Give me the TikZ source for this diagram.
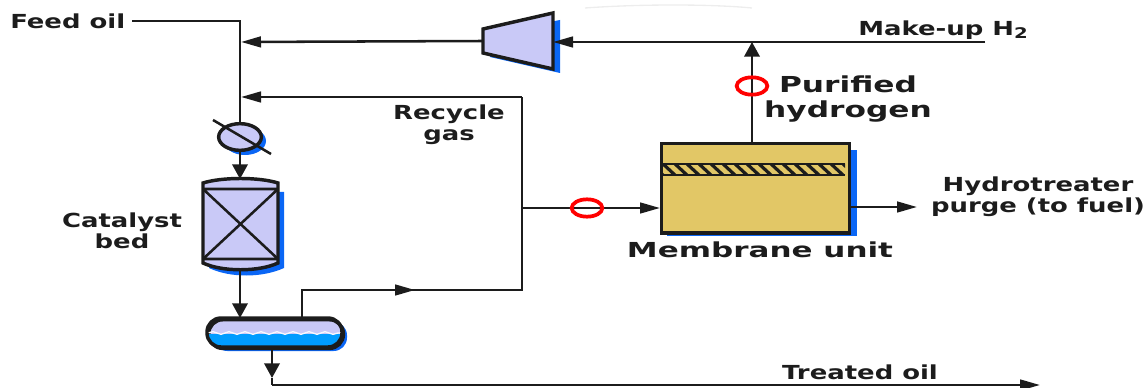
\documentclass[tikz,border=0pt]{standalone}
\usepackage{fontspec}
\usetikzlibrary{arrows.meta,shapes.geometric,decorations.pathmorphing,calc}
\newfontfamily\labA[FakeStretch=1.34]{DejaVu Sans Bold}
\newfontfamily\labB[FakeStretch=1.42]{DejaVu Sans Bold}
\newfontfamily\labC[FakeStretch=1.50]{DejaVu Sans Bold}
\definecolor{lav}{HTML}{C9C9F7}
\definecolor{shad}{HTML}{0A66F5}
\definecolor{liq}{HTML}{009CFF}
\definecolor{sand}{HTML}{E2C766}
\definecolor{ink}{HTML}{1C1C1C}
\tikzset{
  pipe/.style={draw=ink,line width=1.9pt},
  vflow/.style={pipe,-{Triangle[length=11pt,width=11.5pt]}},
  hflow/.style={pipe,-{Triangle[length=15pt,width=8pt]}},
  equip/.style={draw=ink,line width=2.6pt,fill=lav},
  lab/.style={font=\labA\fontsize{14.5}{15.5}\selectfont,text=ink,align=center,inner sep=0pt},
  labbig/.style={font=\labB\fontsize{16.5}{18.7}\selectfont,text=ink,align=center,inner sep=0pt},
  labmem/.style={font=\labC\fontsize{15.5}{18}\selectfont,text=ink,align=center,inner sep=0pt},
  tag/.style={draw=red,line width=2.8pt,ellipse,fill=none,minimum width=23pt,minimum height=13pt,inner sep=0pt},
  pt/.style={inner sep=0pt,minimum size=0pt}
}
\begin{document}
\begin{tikzpicture}[x=0.75pt,y=-0.75pt]
\useasboundingbox (0,0) rectangle (1148,388);
% faint mark at the top
\draw[black!7,line width=1pt] (585,8) .. controls (640,4) and (710,4) .. (752,8);
% labels
\node[lab,anchor=west] (feed) at (10,21) {Feed oil};
\node[lab,anchor=west] (makeup) at (858,30) {Make-up H\raisebox{-2.5pt}{\fontsize{11}{11}\selectfont 2}};
\node[labbig] (purif) at (848,99) {Purified\\hydrogen};
\node[lab] (recy) at (449,125) {Recycle\\gas};
\node[lab] (cat) at (122,231) {Catalyst\\bed};
\node[lab] (hydro) at (1038,197) {Hydrotreater\\purge (to fuel)};
\node[labmem] (memlab) at (760,250) {Membrane unit};
\node[lab] (treated) at (860,372) {Treated oil};
% shadows
\fill[shad] (490,34) -- (560,20) -- (560,73) -- (490,57) -- cycle;
\fill[shad] (667,150) rectangle (857,236);
\fill[shad] (245,141) circle[x radius=15.75pt,y radius=10.5pt];
\fill[shad] (209,192) rectangle (284,268) (209,268) .. controls (230,278) and (262,278) .. (284,268);
\fill[shad,rounded corners=10pt] (214,322) rectangle (347,351);
% nodes
\node[pt] (compL) at (483,41) {};
\node[pt] (compR) at (553,42) {};
\path[equip] (483,29) -- (553,13) -- (553,69) -- (483,53) -- cycle;
\node[equip,rectangle,fill=sand,minimum width=141pt,minimum height=67pt,inner sep=0pt,anchor=north west] (mem) at (660,142) {};
\begin{scope}
\clip (663,164) rectangle (845,175);
\foreach \sx in {650,662,...,850} \draw[ink,line width=2.4pt] (\sx,163) -- (\sx+14,176);
\end{scope}
\draw[ink,line width=1.5pt] (663,164) -- (845,164) (663,175) -- (845,175);
\node[equip,ellipse,minimum width=32pt,minimum height=20pt,inner sep=0pt] (hx) at (240,137) {};
\draw[pipe] (213,120) -- (271,154);
% catalyst bed
\node[pt] (bedT) at (240,179) {};
\node[pt] (bedB) at (240,270) {};
\path[equip] (203,183) .. controls (222,177) and (259,177) .. (278,183) -- (278,263) .. controls (259,272) and (222,272) .. (203,263) -- cycle;
\draw[pipe] (203,189) -- (278,189) (203,259) -- (278,259) (203,189) -- (278,259) (278,189) -- (203,259);
% drum
\node[equip,rectangle,rounded corners=10.5pt,minimum width=101pt,minimum height=21.5pt,inner sep=0pt,anchor=north west] (drum) at (207,318) {};
\begin{scope}
\clip[rounded corners=10pt] (208,319) rectangle (341,346);
\fill[liq] (205,334) rectangle (345,348);
\draw[white!85!lav,line width=1pt,decorate,decoration={snake,amplitude=1pt,segment length=12pt}] (208,333) -- (342,333);
\end{scope}
\draw[draw=ink,line width=2.6pt,rounded corners=10.5pt] (207,318) rectangle (342,347);
% junctions
\node[pt] (feedc) at (240,21) {};
\node[pt] (j1) at (241,42) {};
\node[pt] (j2) at (241,97) {};
\node[pt] (hxT) at (240,123) {};
\node[pt] (hxB) at (240,150) {};
\node[pt] (drumT) at (240,318) {};
\node[pt] (off) at (302,318) {};
\node[pt] (offc) at (302,290) {};
\node[pt] (m1) at (415,290) {};
\node[pt] (rc) at (522,290) {};
\node[pt] (rt) at (522,97) {};
\node[pt] (jm) at (522,208) {};
\node[pt] (memL) at (660,208) {};
\node[pt] (memT) at (752,142) {};
\node[pt] (top) at (752,42) {};
\node[pt] (mkr) at (985,42) {};
\node[pt] (memR) at (848,207) {};
\node[pt] (memO) at (917,207) {};
\node[pt] (drumB) at (272,347) {};
\node[pt] (d1) at (272,378) {};
\node[pt] (d2) at (272,385) {};
\node[pt] (end) at (1040,385) {};
% connectors
\draw[pipe] (feed.east) ++(5pt,0) -- (feedc.center) -- (hxT.center);
\draw[hflow] (compL.center) -- (j1.center);
\draw[hflow] (mkr.center) -- (compR.center);
\draw[vflow] (memT.center) -- (top.center);
\draw[vflow] (hxB.center) -- (bedT.center);
\draw[vflow] (bedB.center) -- (drumT.center);
\draw[pipe] (off.center) -- (offc.center) -- (m1.center);
\draw[hflow] (offc.center) -- (m1.center);
\draw[pipe] (m1.center) -- (rc.center) -- (rt.center);
\draw[hflow] (rt.center) -- (j2.center);
\draw[hflow] (jm.center) -- (memL.center);
\draw[hflow] (memR.center) -- (memO.center);
\draw[vflow] (drumB.center) -- (d1.center);
\draw[pipe] (d1.center) -- (d2.center);
\draw[hflow] (d2.center) -- (end.center);
\node[tag] (tag1) at (752,86) {};
\node[tag] (tag2) at (587,208) {};
\end{tikzpicture}
\end{document}
